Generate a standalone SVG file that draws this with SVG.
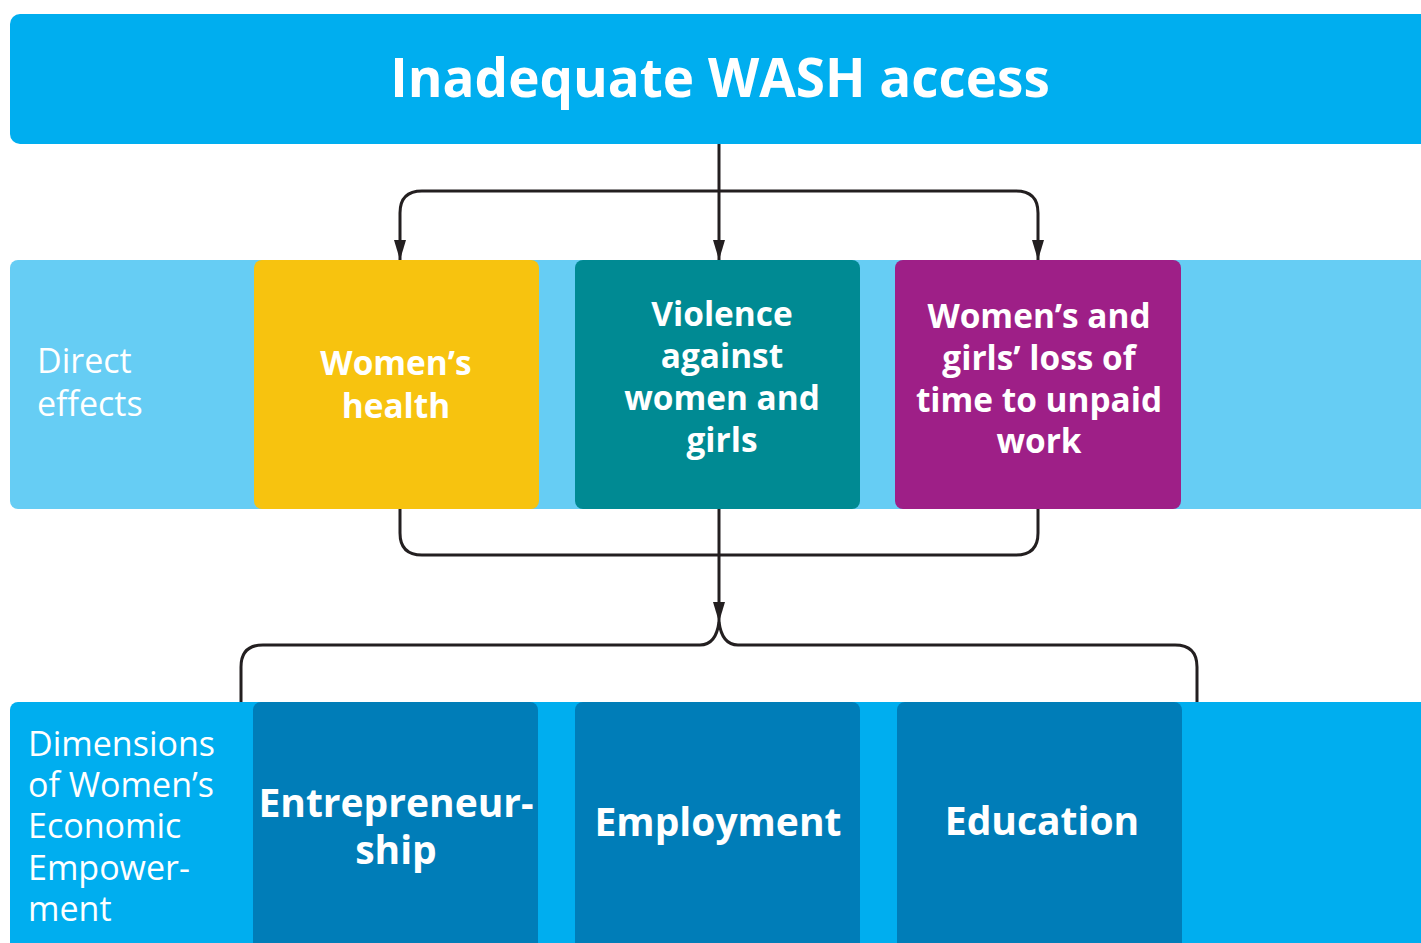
<svg xmlns="http://www.w3.org/2000/svg" width="1421" height="943" viewBox="0 0 1421 943">
  <defs>
    <marker id="arrow" viewBox="0 0 20 12" refX="20" refY="6" markerWidth="20" markerHeight="12" markerUnits="userSpaceOnUse" orient="auto-start-reverse">
      <path d="M0,0 L20,6 L0,12 Z" fill="#231f20"/>
    </marker>
    <style>
      .band-top { fill: #00aeef; }
      .band-direct { fill: #66cdf4; }
      .band-dim { fill: #00aeef; }
      .health { fill: #f7c30f; }
      .violence { fill: #008a93; }
      .time { fill: #9e1f87; }
      .dim { fill: #007db8; }
      .title { font-family: "Open Sans", "Noto Sans", sans-serif; font-weight: 700; font-size: 53px; fill: #ffffff; text-anchor: middle; }
      .side { font-family: "Open Sans", "Noto Sans", sans-serif; font-weight: 400; font-size: 34px; fill: #ffffff; }
      .box { font-family: "Open Sans", "Noto Sans", sans-serif; font-weight: 700; font-size: 33.4px; fill: #ffffff; text-anchor: middle; }
      .boxl { font-family: "Open Sans", "Noto Sans", sans-serif; font-weight: 700; font-size: 39px; fill: #ffffff; text-anchor: middle; }
      .conn { fill: none; stroke: #231f20; stroke-width: 3; }
    </style>
  </defs>

  <!-- top banner -->
  <g id="wash">
    <rect class="band-top" x="10" y="14" width="1431" height="130" rx="10"/>
    <text class="title" x="720" y="97">Inadequate WASH access</text>
  </g>

  <!-- direct effects row -->
  <g id="direct-effects">
    <rect class="band-direct" x="10" y="260" width="1421" height="249" rx="8"/>
    <text class="side" x="37" y="373">Direct</text>
    <text class="side" x="37" y="416">effects</text>
  </g>
  <g id="womens-health">
    <rect class="health" x="254" y="260" width="285" height="249" rx="8"/>
    <text class="box" x="396" y="375">Women’s</text>
    <text class="box" x="396" y="418">health</text>
  </g>
  <g id="violence">
    <rect class="violence" x="575" y="260" width="285" height="249" rx="8"/>
    <text class="box" x="722" y="326">Violence</text>
    <text class="box" x="722" y="368">against</text>
    <text class="box" x="722" y="410">women and</text>
    <text class="box" x="722" y="452">girls</text>
  </g>
  <g id="time-loss">
    <rect class="time" x="895" y="260" width="286" height="249" rx="8"/>
    <text class="box" x="1039" y="328">Women’s and</text>
    <text class="box" x="1039" y="370">girls’ loss of</text>
    <text class="box" x="1039" y="412">time to unpaid</text>
    <text class="box" x="1039" y="453">work</text>
  </g>

  <!-- dimensions row -->
  <g id="dimensions">
    <rect class="band-dim" x="10" y="702" width="1421" height="260" rx="8"/>
    <text class="side" x="28" y="756">Dimensions</text>
    <text class="side" x="28" y="797">of Women’s</text>
    <text class="side" x="28" y="838">Economic</text>
    <text class="side" x="28" y="880">Empower-</text>
    <text class="side" x="28" y="921">ment</text>
  </g>
  <g id="entrepreneurship">
    <rect class="dim" x="253" y="702" width="285" height="260" rx="8"/>
    <text class="boxl" font-size="38.4" x="396" y="817">Entrepreneur-</text>
    <text class="boxl" font-size="38.4" x="396" y="864">ship</text>
  </g>
  <g id="employment">
    <rect class="dim" x="575" y="702" width="285" height="260" rx="8"/>
    <text class="boxl" x="718" y="836">Employment</text>
  </g>
  <g id="education">
    <rect class="dim" x="897" y="702" width="285" height="260" rx="8"/>
    <text class="boxl" x="1042" y="835">Education</text>
  </g>

  <!-- connectors -->
  <g id="connectors">
    <path class="conn" d="M719,144 V260" marker-end="url(#arrow)"/>
    <path class="conn" d="M400,260 V213 Q400,191 422,191 H1016 Q1038,191 1038,213 V260" marker-start="url(#arrow)" marker-end="url(#arrow)"/>
    <path class="conn" d="M400,509 V533 Q400,555 422,555 H1016 Q1038,555 1038,533 V509"/>
    <path class="conn" d="M719,509 V622" marker-end="url(#arrow)"/>
    <path class="conn" d="M719,622 Q716,645 700,645 H263 Q241,645 241,667 V702"/>
    <path class="conn" d="M719,622 Q722,645 738,645 H1175 Q1197,645 1197,667 V702"/>
  </g>
</svg>
